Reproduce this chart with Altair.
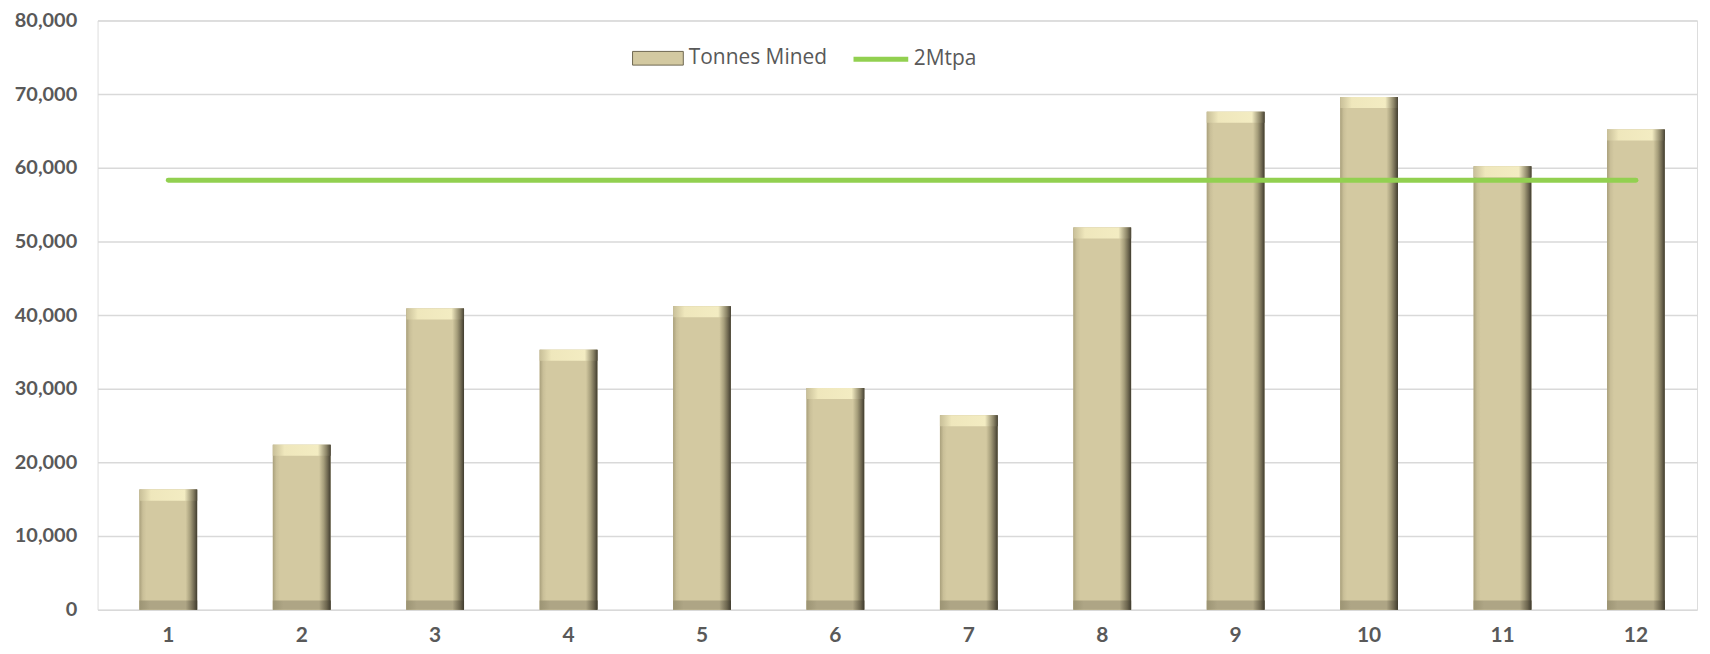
import altair as alt
import pandas as pd

months = [str(i) for i in range(1, 13)]
tonnes = [16300, 22400, 40900, 35300, 41200, 30100, 26400, 51900, 67600, 69600, 60200, 65200]
target = [58300] * 12
series_bar = "Tonnes Mined"
series_line = "2Mtpa"

df = pd.DataFrame({"month": months, "tonnes": tonnes, "target": target,
                   "sb": series_bar, "sl": series_line})
df["top2"] = df["tonnes"] - 1500
df["bot2"] = 1250

x_scale = alt.Scale(paddingInner=0.567, paddingOuter=0.2775, align=0.565)
x_enc = alt.X("month:O", sort=months, title=None, scale=x_scale,
              axis=alt.Axis(labelAngle=0, labelFont="Lato", labelFontWeight="bold",
                            labelFontSize=21, labelColor="#595959", labelPadding=15,
                            ticks=False, domain=False, grid=False))
y_scale = alt.Scale(domain=[0, 80000], nice=False)

base = alt.Chart(df)

bars_legend = base.mark_bar().encode(
    x=x_enc,
    y=alt.Y("tonnes:Q", scale=y_scale, title=None,
            axis=alt.Axis(values=list(range(0, 80001, 10000)), format=",.0f",
                          labelFont="Lato", labelFontWeight="bold", labelFontSize=20,
                          labelColor="#595959", labelPadding=21, ticks=False,
                          domain=False, grid=True, gridColor="#d9d9d9", gridWidth=1.5)),
    fill=alt.Fill("sb:N", scale=alt.Scale(domain=[series_bar], range=["#d3c9a1"]),
                  legend=alt.Legend(title=None, orient="none", legendX=537, legendY=12,
                                    symbolType="M-1,-0.27H1V0.27H-1Z", symbolSize=2601,
                                    symbolStrokeColor="#6e6750", symbolStrokeWidth=1,
                                    labelFont="Open Sans", labelFontSize=21,
                                    labelColor="#595959", labelOffset=5, padding=0)),
)

side_grad = alt.Gradient(gradient="linear", x1=0, x2=1, y1=0, y2=0, stops=[
    alt.GradientStop(color="#a9a07c", offset=0),
    alt.GradientStop(color="#c9bf98", offset=0.06),
    alt.GradientStop(color="#d3c9a1", offset=0.12),
    alt.GradientStop(color="#d3c9a1", offset=0.80),
    alt.GradientStop(color="#a69e7b", offset=0.88),
    alt.GradientStop(color="#6e6750", offset=0.95),
    alt.GradientStop(color="#3f3b2e", offset=1),
])
bars_main = base.mark_bar(fill=side_grad).encode(
    x=alt.X("month:O", sort=months), y=alt.Y("tonnes:Q", scale=y_scale))

top_grad = alt.Gradient(gradient="linear", x1=0, x2=1, y1=0, y2=0, stops=[
    alt.GradientStop(color="#c8bf98", offset=0),
    alt.GradientStop(color="#efe7bc", offset=0.2),
    alt.GradientStop(color="#f3ecc2", offset=0.78),
    alt.GradientStop(color="#8a8366", offset=0.93),
    alt.GradientStop(color="#4a4536", offset=1),
])
bars_top = base.mark_bar(fill=top_grad).encode(
    x=alt.X("month:O", sort=months), y=alt.Y("tonnes:Q", scale=y_scale), y2="top2:Q")

bot_grad = alt.Gradient(gradient="linear", x1=0, x2=1, y1=0, y2=0, stops=[
    alt.GradientStop(color="#9c9474", offset=0),
    alt.GradientStop(color="#aea585", offset=0.18),
    alt.GradientStop(color="#aea585", offset=0.80),
    alt.GradientStop(color="#6e6750", offset=0.93),
    alt.GradientStop(color="#3f3b2e", offset=1),
])
bars_bot = base.mark_bar(fill=bot_grad).encode(
    x=alt.X("month:O", sort=months), y=alt.Y("bot2:Q", scale=y_scale), y2=alt.Y2(datum=0))

line = base.mark_line(strokeWidth=5, strokeCap="round").encode(
    x=alt.X("month:O", sort=months),
    y=alt.Y("target:Q", scale=y_scale),
    stroke=alt.Stroke("sl:N", scale=alt.Scale(domain=[series_line], range=["#92d050"]),
                      legend=alt.Legend(title=None, orient="none", legendX=757, legendY=9,
                                        symbolType="stroke", symbolSize=3025,
                                        symbolStrokeWidth=5, labelFont="Open Sans",
                                        labelFontSize=21, labelColor="#595959",
                                        labelOffset=3, padding=0)),
)

chart = alt.layer(bars_legend, bars_main, bars_top, bars_bot, line).resolve_scale(
    fill="independent", stroke="independent"
).properties(
    width=1607, height=592,
    autosize=alt.AutoSizeParams(type="none"),
    padding={"left": 90, "top": 11, "right": 5, "bottom": 35},
).configure_view(stroke=None).configure(background="white")

chart.save("out.html", embed_options={"renderer": "svg", "actions": False})
